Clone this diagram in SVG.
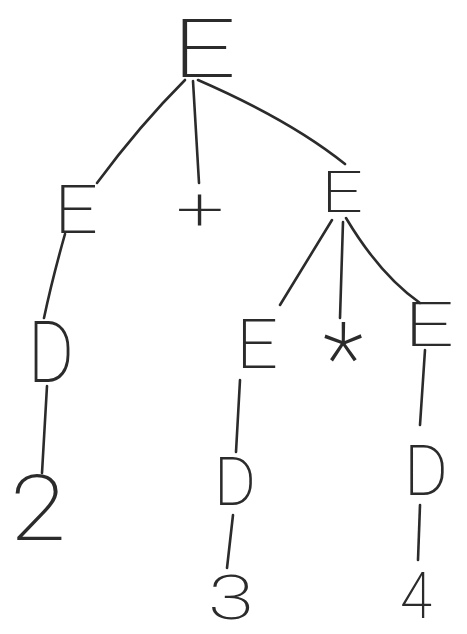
<svg xmlns="http://www.w3.org/2000/svg" width="467" height="634" viewBox="0 0 467 634">
<style>
.n{font-family:Roboto,Inter,"Liberation Sans",sans-serif;font-weight:200;fill:#2b2b2b}
.c{fill:none;stroke:#2b2b2b;stroke-width:2.6;stroke-linecap:round}
</style>
<rect width="467" height="634" fill="#ffffff"/>
<g id="connectors">
<path class="c" d="M185 80 Q140 125 97 183"/>
<path class="c" d="M193 81 L199 183"/>
<path class="c" d="M198 80 Q290 120 345 164"/>
<path class="c" d="M65 234 Q52 280 44 318"/>
<path class="c" d="M47 386 L42 473"/>
<path class="c" d="M332 220 L280 305"/>
<path class="c" d="M343 222 L340 318"/>
<path class="c" d="M346 218 Q380 275 420 303"/>
<path class="c" d="M240 380 L236 452"/>
<path class="c" d="M233 515 L227 568"/>
<path class="c" d="M425 350 L420 425"/>
<path class="c" d="M420 505 L418 560"/>
</g>
<g id="n_E_root"><text class="n" x="172" y="77" font-size="82" textLength="64" lengthAdjust="spacingAndGlyphs">E</text></g>
<g id="n_E_left"><text class="n" x="54" y="233" font-size="66" textLength="44" lengthAdjust="spacingAndGlyphs">E</text></g>
<g id="n_plus"><text class="n" x="176" y="230" font-size="60" textLength="48" lengthAdjust="spacingAndGlyphs">+</text></g>
<g id="n_E_right"><text class="n" x="321" y="212" font-size="58" textLength="42" lengthAdjust="spacingAndGlyphs">E</text></g>
<g id="n_D_left"><text class="n" x="28" y="382" font-size="86" textLength="46" lengthAdjust="spacingAndGlyphs">D</text></g>
<g id="n_2"><text class="n" x="10" y="540" font-size="90" textLength="56" lengthAdjust="spacingAndGlyphs">2</text></g>
<g id="n_E_mid"><text class="n" x="236" y="368" font-size="68" textLength="42" lengthAdjust="spacingAndGlyphs">E</text></g>
<g id="n_star"><text class="n" x="323" y="393" font-size="100" textLength="40" lengthAdjust="spacingAndGlyphs">*</text></g>
<g id="n_E_r3"><text class="n" x="404" y="346" font-size="62" textLength="50" lengthAdjust="spacingAndGlyphs">E</text></g>
<g id="n_D_mid"><text class="n" x="214" y="505" font-size="66" textLength="42" lengthAdjust="spacingAndGlyphs">D</text></g>
<g id="n_3"><text class="n" x="208" y="619" font-size="62" textLength="46" lengthAdjust="spacingAndGlyphs">3</text></g>
<g id="n_D_right"><text class="n" x="404" y="495" font-size="70" textLength="44" lengthAdjust="spacingAndGlyphs">D</text></g>
<g id="n_4"><text class="n" x="400" y="618" font-size="64" textLength="32" lengthAdjust="spacingAndGlyphs">4</text></g>
</svg>
